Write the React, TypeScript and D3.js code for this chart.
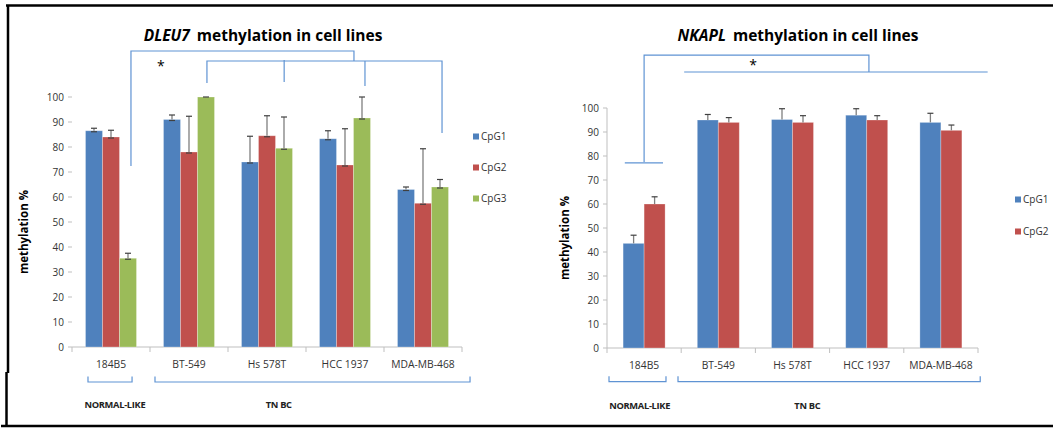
import React from "react";
import * as d3 from "d3";

// ---- data ----
const cellLines = ["184B5", "BT-549", "Hs 578T", "HCC 1937", "MDA-MB-468"];
const yTicks = [0, 10, 20, 30, 40, 50, 60, 70, 80, 90, 100];

const dleuCpG1 = [86.5, 91, 74, 83.3, 63];
const dleuCpG2 = [84, 78, 84.5, 72.8, 57.5];
const dleuCpG3 = [35.5, 100, 79.5, 91.6, 64];
const dleuErr1 = [1, 1.8, 10.3, 3.2, 1];
const dleuErr2 = [2.7, 14.3, 8, 14.5, 21.8];
const dleuErr3 = [2, 0, 12.5, 8.4, 3];

const nkaplCpG1 = [43.6, 95, 95.2, 97, 94];
const nkaplCpG2 = [60, 94, 94, 95, 90.7];
const nkaplErr1 = [3.4, 2.3, 4.5, 2.7, 3.8];
const nkaplErr2 = [3, 2, 2.8, 1.8, 2.2];

const colors = ["#4f81bd", "#c0504d", "#9bbb59"];
const bracketColor = "#5f93d3";
const font = "'Open Sans', 'Liberation Sans', sans-serif";

type Series = { name: string; values: number[]; err: number[] };

type PanelProps = {
  title: string;
  series: Series[];
  x0: number;
  x1: number;
  yTop: number;
  yBottom: number;
  barW: number;
  axisLine: boolean;
  lowerCap: boolean;
  yLabelX: number;
  legendX: number;
  legendY: number;
  legendGap: number;
  titleX: number;
  // brackets as [category position, value] pairs
  sigPaths: [number, number][][];
  star: [number, number];
  groupBrackets: [number, number][];
  groupLabels: [string, number][];
};

const Panel = (p: PanelProps) => {
  const x = d3.scaleBand<string>().domain(cellLines).range([p.x0, p.x1]);
  const y = d3.scaleLinear().domain([0, 100]).range([p.yBottom, p.yTop]);
  const inner = d3
    .scaleBand<string>()
    .domain(p.series.map((s) => s.name))
    .range([0, p.barW * p.series.length]);
  const off = (x.bandwidth() - p.barW * p.series.length) / 2;
  const pos = (f: number) => p.x0 + f * x.bandwidth();
  const line = d3
    .line<[number, number]>()
    .x((d) => pos(d[0]))
    .y((d) => y(d[1]));

  return (
    <g fontFamily={font}>
      <text x={p.titleX} y={41} textAnchor="middle" fontSize={15.5} fontWeight="bold" fill="#000">
        <tspan fontStyle="italic">{p.title}</tspan>
        <tspan dx={7}>methylation in cell lines</tspan>
      </text>

      {/* y axis */}
      {p.axisLine && (
        <line x1={p.x0} x2={p.x0} y1={y(100)} y2={y(0)} stroke="#bfbfbf" />
      )}
      {yTicks.map((t) => (
        <g key={t}>
          <line x1={p.x0 - 4} x2={p.x0} y1={y(t)} y2={y(t)} stroke="#bfbfbf" />
          <text x={p.x0 - 8} y={y(t) + 3.5} textAnchor="end" fontSize={10} fill="#333">
            {t}
          </text>
        </g>
      ))}
      <text
        transform={`translate(${p.yLabelX},${(y(0) + y(100)) / 2 + 10}) rotate(-90)`}
        textAnchor="middle"
        fontSize={11.5}
        fontWeight="bold"
        fill="#000"
      >
        methylation %
      </text>

      {/* x axis */}
      <line x1={p.x0} x2={p.x1} y1={y(0)} y2={y(0)} stroke="#bfbfbf" />
      {cellLines.map((c, i) => (
        <line key={c} x1={pos(i)} x2={pos(i)} y1={y(0)} y2={y(0) + 5} stroke="#bfbfbf" />
      ))}
      <line x1={p.x1} x2={p.x1} y1={y(0)} y2={y(0) + 5} stroke="#bfbfbf" />
      {cellLines.map((c) => (
        <text
          key={c}
          x={(x(c) as number) + x.bandwidth() / 2}
          y={y(0) + 21}
          textAnchor="middle"
          fontSize={10.3}
          fill="#333"
        >
          {c}
        </text>
      ))}

      {/* bars */}
      {p.series.map((s, si) =>
        cellLines.map((c, i) => {
          const bx = (x(c) as number) + off + (inner(s.name) as number);
          return (
            <rect
              key={s.name + c}
              x={bx}
              y={y(s.values[i])}
              width={p.barW}
              height={y(0) - y(s.values[i])}
              fill={colors[si]}
              stroke="#ffffff"
              strokeOpacity={0.35}
              strokeWidth={0.8}
            />
          );
        })
      )}

      {/* error bars */}
      {p.series.map((s) =>
        cellLines.map((c, i) => {
          const cx = (x(c) as number) + off + (inner(s.name) as number) + p.barW / 2;
          const top = y(s.values[i] + s.err[i]);
          const base = y(s.values[i]);
          return (
            <g key={"e" + s.name + c}>
              <line x1={cx} x2={cx} y1={top} y2={base} stroke="#7f7f7f" strokeWidth={1.3} />
              <line x1={cx - 3} x2={cx + 3} y1={top} y2={top} stroke="#404040" strokeWidth={1.2} />
              {p.lowerCap && s.err[i] > 0 && (
                <line x1={cx - 3} x2={cx + 3} y1={base + 1} y2={base + 1} stroke="#404040" strokeWidth={1.2} />
              )}
            </g>
          );
        })
      )}

      {/* legend */}
      {p.series.map((s, si) => (
        <g key={"l" + s.name} transform={`translate(${p.legendX},${p.legendY + si * p.legendGap})`}>
          <rect x={0} y={-6.5} width={6} height={6} fill={colors[si]} />
          <text x={8} y={0} fontSize={10} fill="#333">
            {s.name}
          </text>
        </g>
      ))}

      {/* significance brackets */}
      {p.sigPaths.map((path, k) => (
        <path key={"s" + k} d={line(path) as string} fill="none" stroke={bracketColor} strokeWidth={1.2} />
      ))}
      <text x={pos(p.star[0])} y={y(p.star[1])} textAnchor="middle" fontSize={14} fill="#000">
        *
      </text>

      {/* group brackets under the axis */}
      {p.groupBrackets.map((b, k) => (
        <path
          key={"g" + k}
          d={line([
            [b[0], -11.8],
            [b[0], -14],
            [b[1], -14],
            [b[1], -11.8],
          ]) as string}
          fill="none"
          stroke={bracketColor}
          strokeWidth={1.2}
        />
      ))}
      {p.groupLabels.map((g) => (
        <text
          key={g[0]}
          x={pos(g[1])}
          y={y(0) + 61}
          textAnchor="middle"
          fontSize={9.3}
          fontWeight="bold"
          fill="#222"
          letterSpacing={-0.3}
        >
          {g[0]}
        </text>
      ))}
    </g>
  );
};

const App = () => {
  return (
    <svg
      width={1053}
      height={428}
      style={{ position: "absolute", left: 0, top: 0, background: "#fff" }}
    >
      <rect width={1053} height={428} fill="#fff" />
      {/* frame */}
      <line x1={6} x2={1053} y1={5.5} y2={5.5} stroke="#000" strokeWidth={2.5} />
      <line x1={1} x2={1053} y1={426} y2={426} stroke="#000" strokeWidth={2.5} />
      <line x1={8} x2={8} y1={5} y2={373} stroke="#000" strokeWidth={2.5} />
      <line x1={6.5} x2={6.5} y1={372} y2={427} stroke="#000" strokeWidth={2.5} />

      <Panel
        title="DLEU7"
        series={[
          { name: "CpG1", values: dleuCpG1, err: dleuErr1 },
          { name: "CpG2", values: dleuCpG2, err: dleuErr2 },
          { name: "CpG3", values: dleuCpG3, err: dleuErr3 },
        ]}
        x0={72}
        x1={462}
        yTop={97}
        yBottom={347}
        barW={17}
        axisLine={false}
        lowerCap={true}
        yLabelX={28}
        legendX={473}
        legendY={140}
        legendGap={31}
        titleX={263}
        sigPaths={[
          [
            [0.756, 72.4],
            [0.756, 118.4],
            [3.615, 118.4],
            [3.615, 114.4],
          ],
          [
            [1.73, 105.6],
            [1.73, 114.4],
            [4.744, 114.4],
            [4.744, 85.6],
          ],
          [
            [2.72, 106],
            [2.72, 114.8],
          ],
          [
            [3.756, 104.4],
            [3.756, 114.4],
          ],
        ]}
        star={[1.14, 110.5]}
        groupBrackets={[
          [0.205, 0.77],
          [1.064, 5.103],
        ]}
        groupLabels={[
          ["NORMAL-LIKE", 0.55],
          ["TN BC", 2.65],
        ]}
      />

      <Panel
        title="NKAPL"
        series={[
          { name: "CpG1", values: nkaplCpG1, err: nkaplErr1 },
          { name: "CpG2", values: nkaplCpG2, err: nkaplErr2 },
        ]}
        x0={607}
        x1={978}
        yTop={108}
        yBottom={348}
        barW={21}
        axisLine={true}
        lowerCap={false}
        yLabelX={569}
        legendX={1015}
        legendY={203}
        legendGap={32}
        titleX={798}
        sigPaths={[
          [
            [0.5, 77.5],
            [0.5, 122],
            [3.53, 122],
            [3.53, 115],
          ],
          [
            [0.24, 77.1],
            [0.755, 77.1],
          ],
          [
            [1.04, 115],
            [5.13, 115],
          ],
        ]}
        star={[1.97, 115.8]}
        groupBrackets={[
          [0.027, 0.795],
          [0.957, 5.03],
        ]}
        groupLabels={[
          ["NORMAL-LIKE", 0.44],
          ["TN BC", 2.7],
        ]}
      />
    </svg>
  );
};

export default App;
